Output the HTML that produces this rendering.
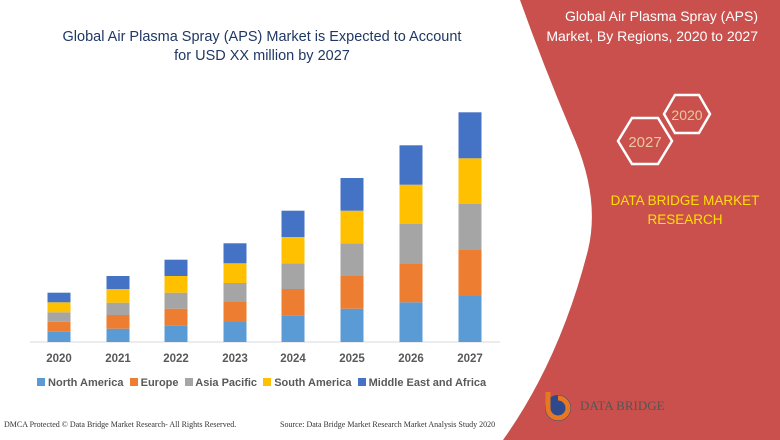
<!DOCTYPE html>
<html><head><meta charset="utf-8"><style>
body{margin:0;width:780px;height:440px;overflow:hidden;background:#fff;font-family:"Liberation Sans",sans-serif;position:relative}
.t{position:absolute;white-space:nowrap}
</style></head><body>
<svg width="780" height="440" style="position:absolute;left:0;top:0">
<path d="M520,0 L780,0 L780,440 L503,440 Q560,360 588,250 Q600,200 575,140 Q545,70 520,0 Z" fill="#C9504C"/>
<g font-family="Liberation Sans, sans-serif">
<polygon points="618,141 632,118 658,118 672,141 658,164 632,164" fill="none" stroke="#fff" stroke-width="2.5"/>
<polygon points="664,114 675,95 699,95 710,114 699,133 675,133" fill="none" stroke="#fff" stroke-width="2.5"/>
<text x="645" y="147" font-size="15" fill="#E8C9A0" text-anchor="middle">2027</text>
<text x="687" y="120" font-size="14" fill="#E8C9A0" text-anchor="middle">2020</text>
<text x="685" y="205" font-size="13.5" fill="#FFE000" text-anchor="middle">DATA BRIDGE MARKET</text>
<text x="685" y="224" font-size="13.5" fill="#FFE000" text-anchor="middle">RESEARCH</text>
<text x="758" y="21" font-size="14" fill="#fff" text-anchor="end">Global Air Plasma Spray (APS)</text>
<text x="758" y="41" font-size="14" fill="#fff" text-anchor="end">Market, By Regions, 2020 to 2027</text>
<circle cx="558" cy="408" r="13" fill="#2E4A8C"/>
<path d="M548,392 L548,408 A10,10 0 1 0 558,398" fill="none" stroke="#E87722" stroke-width="5"/>
<text x="580" y="410" font-size="13" fill="#555" font-family="Liberation Serif, serif">DATA BRIDGE</text>
</g>
<line x1="30" y1="342" x2="500" y2="342" stroke="#D9D9D9"/>
<g id="bars"></g>
</svg>
<div class="t" style="left:12px;width:500px;text-align:center;top:28px;font-size:14.5px;line-height:19px;color:#1F3864">Global Air Plasma Spray (APS) Market is Expected to Account<br>for USD XX million by 2027</div>
<div class="t" style="left:4px;top:420px;font-size:8px;color:#333;font-family:'Liberation Serif',serif">DMCA Protected © Data Bridge Market Research- All Rights Reserved.</div>
<div class="t" style="left:280px;top:420px;font-size:8px;color:#333;font-family:'Liberation Serif',serif">Source: Data Bridge Market Research Market Analysis Study 2020</div>
<div class="t" style="left:37px;top:377px;font-size:11px;font-weight:bold;color:#595959">
<span style="display:inline-block;width:8px;height:8px;background:#5B9BD5"></span> North America&nbsp;
<span style="display:inline-block;width:8px;height:8px;background:#ED7D31"></span> Europe&nbsp;
<span style="display:inline-block;width:8px;height:8px;background:#A5A5A5"></span> Asia Pacific&nbsp;
<span style="display:inline-block;width:8px;height:8px;background:#FFC000"></span> South America&nbsp;
<span style="display:inline-block;width:8px;height:8px;background:#4472C4"></span> Middle East and Africa</div>
<script>
var xs=[59,118,176,235,293,352,411,470];
var tops=[[331.7,321.7,312.3,302.3,292.7],[328.7,315,302.7,289,276],[325.3,308.7,292.7,276,259.7],[322,302,283,263.3,243.3],[315.3,289,263.3,237,210.7],[308.7,276,243.3,210.7,178],[302.3,263.3,224,184.7,145.3],[296,250,204,158.3,112.3]];
var c=["#5B9BD5","#ED7D31","#A5A5A5","#FFC000","#4472C4"];
var s="";
for(var i=0;i<8;i++){var b=342;for(var j=0;j<5;j++){var t=tops[i][j];s+='<rect x="'+(xs[i]-11.5)+'" y="'+t+'" width="23" height="'+(b-t)+'" fill="'+c[j]+'"/>';b=t;}
s+='<text x="'+xs[i]+'" y="362" font-size="11.5" font-weight="bold" fill="#595959" text-anchor="middle" font-family="Liberation Sans, sans-serif">'+(2020+i)+'</text>';}
document.getElementById("bars").innerHTML=s;
</script>
</body></html>
